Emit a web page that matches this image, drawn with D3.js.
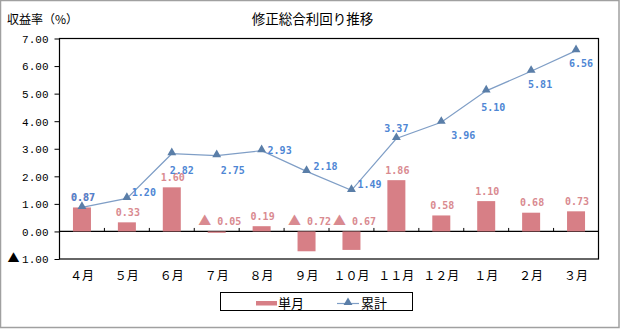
<!DOCTYPE html>
<html><head><meta charset="utf-8">
<script src="https://cdn.jsdelivr.net/npm/d3@7"></script>
<style>
html,body{margin:0;padding:0;background:#fff;}
svg{display:block;}
</style></head>
<body>
<script>
const months = ["４月","５月","６月","７月","８月","９月","１０月","１１月","１２月","１月","２月","３月"];
const monthly = [0.87,0.33,1.60,-0.05,0.19,-0.72,-0.67,1.86,0.58,1.10,0.68,0.73];
const cumulative = [0.87,1.20,2.82,2.75,2.93,2.18,1.49,3.37,3.96,5.10,5.81,6.56];
const yTicks = [-1,0,1,2,3,4,5,6,7];
const seriesNames = ["単月","累計"];
const titleText = "修正総合利回り推移";
const yTitle = "収益率（%）";
// label placement for cumulative labels (layout only): [dx of center, dy of center]
const cumLabelOffset = [[1,-10],[17,-6],[10,17],[16,15],[18,0],[19,-5],[18,-6],[0,-10],[22,13],[7,17],[9,13],[5,13]];

const W=620,H=329;
const svg=d3.select("body").append("svg").attr("width",W).attr("height",H);
svg.append("rect").attr("x",0.5).attr("y",0.5).attr("width",W-1.5).attr("height",H-2)
  .attr("fill","#fff").attr("stroke","#a0a0a0").attr("stroke-width",1.5);

const plot={l:59.5,r:598.5,t:38.5,b:259};
const x=d3.scaleBand().domain(months).range([plot.l,plot.r]).paddingInner(0).paddingOuter(0);
const y=d3.scaleLinear().domain([-1,7]).range([plot.b,plot.t]);

const jp='"Noto Sans CJK JP","Noto Sans",sans-serif';
const mono='"DejaVu Sans Mono","Liberation Mono",monospace';

// title
svg.append("text").attr("x",312.5).attr("y",24).attr("text-anchor","middle")
  .attr("font-family",jp).attr("font-size",13.5).attr("fill","#000").text(titleText);
svg.append("text").attr("x",7).attr("y",24)
  .attr("font-family",jp).attr("font-size",12).attr("fill","#000").text(yTitle);

// plot frame
svg.append("rect").attr("x",plot.l).attr("y",plot.t).attr("width",plot.r-plot.l).attr("height",plot.b-plot.t)
  .attr("fill","none").attr("stroke","#000").attr("stroke-width",1.2);

// y axis
const yAxis=d3.axisLeft(y).tickValues(yTicks).tickSize(5).tickPadding(6).tickFormat(()=>"");
const ya=svg.append("g").attr("transform",`translate(${plot.l},0)`).call(yAxis);
ya.select(".domain").remove();
ya.selectAll("line").attr("stroke","#000");
ya.selectAll(".tick").each(function(d){
  const t=d3.select(this).append("text").attr("x",-11).attr("dy","0.35em")
    .attr("text-anchor","end").attr("font-family",'"Liberation Mono","DejaVu Sans Mono",monospace')
    .attr("font-size",11).attr("fill","#000");
  if(d<0){
    t.append("tspan").attr("font-family",jp).attr("font-size",12).text("▲ ");
    t.append("tspan").text(d3.format(".2f")(-d));
  } else t.text(d3.format(".2f")(d));
});

// zero line
svg.append("line").attr("x1",plot.l).attr("x2",plot.r).attr("y1",y(0)).attr("y2",y(0))
  .attr("stroke","#000").attr("stroke-width",1.2);

// category boundary ticks on zero line
svg.append("g").selectAll("line").data(months.slice(1)).join("line")
  .attr("x1",d=>x(d)).attr("x2",d=>x(d)).attr("y1",y(0)).attr("y2",y(0)-3.5)
  .attr("stroke","#000");

// x labels
svg.append("g").selectAll("text").data(months).join("text")
  .attr("x",d=>x(d)+x.bandwidth()/2).attr("y",280).attr("text-anchor","middle")
  .attr("font-family",jp).attr("font-size",12).attr("fill","#000").text(d=>d);

// bars
const barW=18;
const barColor="#d77f86", pinkText="#d98a90", lineColor="#7f9ec6", markColor="#5a7ea8", blueText="#4e86d4";
svg.append("g").selectAll("rect").data(monthly).join("rect")
  .attr("x",(d,i)=>x(months[i])+x.bandwidth()/2-barW/2)
  .attr("y",d=>d>=0?y(d):y(0))
  .attr("width",barW)
  .attr("height",d=>Math.abs(y(d)-y(0)))
  .attr("fill",barColor);

// monthly labels
svg.append("g").selectAll("text").data(monthly).join("text")
  .attr("x",(d,i)=>x(months[i])+x.bandwidth()/2+(d<0?3:1))
  .attr("y",d=>(d>=0?y(d):y(0))-10)
  .attr("dy","0.35em").attr("text-anchor","middle")
  .attr("font-family",mono).attr("font-weight","bold").attr("font-size",10).attr("fill",pinkText)
  .each(function(d){
    const t=d3.select(this);
    if(d<0){
      t.append("tspan").attr("font-family",jp).attr("font-size",13).text("▲");
      t.append("tspan").text(" "+d3.format(".2f")(-d));
    } else t.text(d3.format(".2f")(d));
  });

// line
const line=d3.line().x((d,i)=>x(months[i])+x.bandwidth()/2).y(d=>y(d));
svg.append("path").datum(cumulative).attr("d",line).attr("fill","none")
  .attr("stroke",lineColor).attr("stroke-width",1.2);
const tri=d3.symbol().type(d3.symbolTriangle).size(34);
svg.append("g").selectAll("path").data(cumulative).join("path")
  .attr("d",tri)
  .attr("transform",(d,i)=>`translate(${x(months[i])+x.bandwidth()/2},${y(d)-1})`)
  .attr("fill",markColor);

// cumulative labels (white knock-out behind so overlapping labels read like the reference)
svg.append("g").selectAll("text").data(cumulative).join("text")
  .attr("x",(d,i)=>x(months[i])+x.bandwidth()/2+cumLabelOffset[i][0])
  .attr("y",(d,i)=>y(d)+cumLabelOffset[i][1])
  .attr("dy","0.35em").attr("text-anchor","middle")
  .attr("font-family",mono).attr("font-weight","bold").attr("font-size",10).attr("fill",blueText)
  .text(d=>d3.format(".2f")(d));

// legend
const lg=svg.append("g");
lg.append("rect").attr("x",220.5).attr("y",292.5).attr("width",192).attr("height",18)
  .attr("fill","#fff").attr("stroke","#000");
lg.append("rect").attr("x",256).attr("y",301).attr("width",21).attr("height",4.5).attr("fill",barColor);
lg.append("text").attr("x",278).attr("y",307.5).attr("font-family",jp).attr("font-size",13).text(seriesNames[0]);
lg.append("line").attr("x1",337).attr("x2",359).attr("y1",303.5).attr("y2",303.5).attr("stroke",lineColor).attr("stroke-width",1.2);
lg.append("path").attr("d",tri).attr("transform","translate(348,302.5)").attr("fill",markColor);
lg.append("text").attr("x",361).attr("y",307.5).attr("font-family",jp).attr("font-size",13).text(seriesNames[1]);
</script>
</body></html>
